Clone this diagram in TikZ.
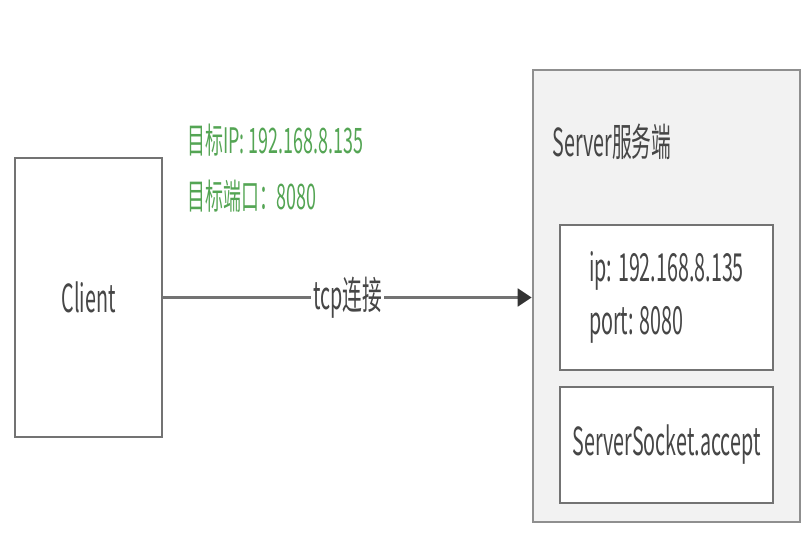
\documentclass[tikz,border=0pt]{standalone}
\usepackage{fontspec}
\setmainfont{Noto Sans CJK SC}[FakeStretch=0.51]
\usepackage{tikz}
\usetikzlibrary{arrows.meta,positioning}

\definecolor{tipgreen}{RGB}{84,165,84}
\definecolor{edgegray}{RGB}{115,115,115}
\definecolor{textgray}{RGB}{70,70,70}
\definecolor{serverfill}{RGB}{242,242,242}

\tikzset{
  box/.style={draw=edgegray, line width=1.5pt, fill=white, text=textgray,
    font=\fontsize{22}{30}\selectfont, inner sep=0pt},
  plain/.style={text=textgray, font=\fontsize{22}{30}\selectfont, inner sep=0pt}
}

\begin{document}
\begin{tikzpicture}[x=0.02cm, y=-0.02cm]
  \useasboundingbox (0,0) rectangle (809,545);

  % Client
  \node[box, minimum width=2.94cm, minimum height=5.58cm] (client) at (88.5,297.5) {Client};

  % target of the connection
  \node[anchor=west, text=tipgreen, align=left, inner sep=0pt,
    font=\fontsize{20}{32}\selectfont] (target) at (187,168)
    {目标IP: 192.168.8.135\\目标端口：8080};

  % Server side
  \node[box, draw=edgegray!80, fill=serverfill, minimum width=5.34cm, minimum height=9.04cm] (server) at (666.5,296) {};
  \node[plain, anchor=west] (servername) at (552,142) {Server服务端};
  \node[box, align=left, minimum width=4.26cm, minimum height=2.9cm] (addr) at (666.5,297.5)
    {ip: 192.168.8.135\\port: 8080};
  \node[box, minimum width=4.26cm, minimum height=2.32cm] (accept) at (666.5,445) {ServerSocket.accept};

  % connection
  \draw[edgegray, line width=1.8pt, -{Triangle[color=black!80, length=8pt, width=10pt]}]
    (client.east) -- (client.east -| server.west)
    node[midway, plain, fill=white, inner sep=1pt] (tcp) {tcp连接};
\end{tikzpicture}
\end{document}
